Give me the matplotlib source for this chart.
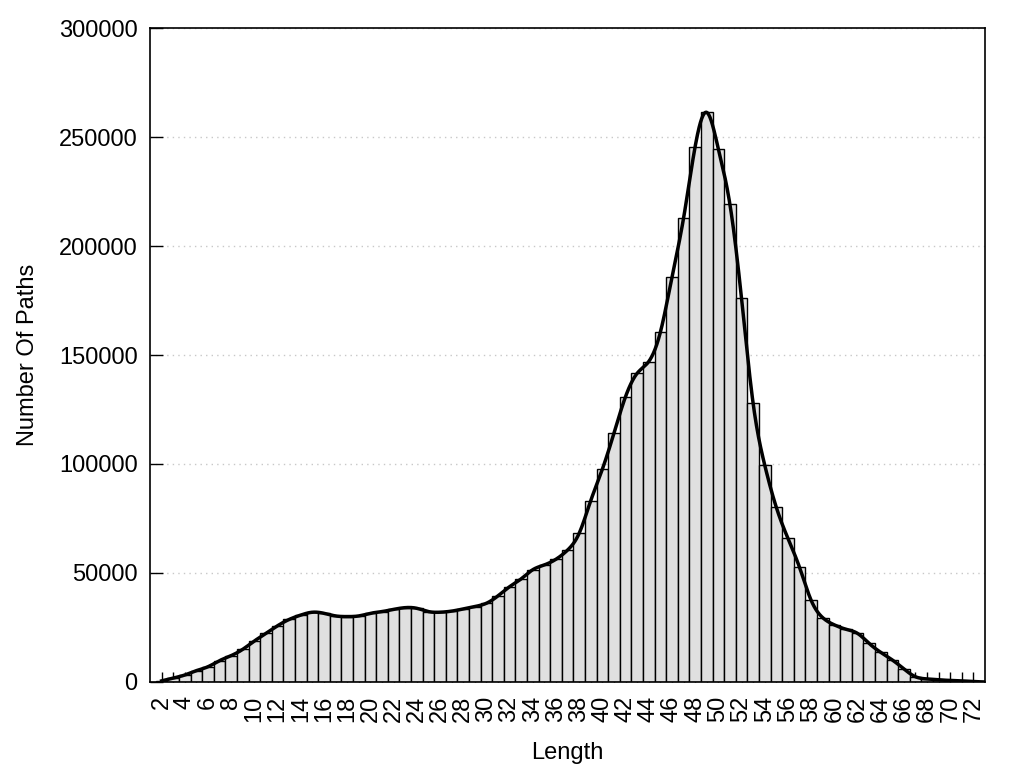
import numpy as np
import matplotlib
matplotlib.use("Agg")
import matplotlib.pyplot as plt

plt.rcParams['font.family'] = ['Liberation Sans', 'DejaVu Sans']

lengths = list(range(2, 74))
paths = [500, 1800, 3200, 5200, 7000, 9800, 12100, 15000, 18800, 22300,
         25800, 28700, 30700, 32000, 31500, 30300, 30000, 30300, 31500, 32300,
         33300, 34100, 33800, 32300, 32000, 32500, 33500, 34600, 36100, 39500,
         43700, 47300, 51500, 53700, 56300, 60500, 68200, 83200, 97600, 114100,
         130900, 141600, 147000, 160400, 185600, 212700, 245600, 261300, 244600, 219100,
         176000, 127800, 99500, 80100, 65900, 52600, 37500, 29500, 26200, 24200,
         22300, 17700, 13600, 10100, 6000, 2400, 1400, 1000, 700, 500,
         200, 0]

x_labels = [str(v) for v in range(2, 73, 2)]


def natural_spline(x, y, n=2000):
    # plain natural cubic spline through the points (like gnuplot csplines)
    x = np.asarray(x, float)
    y = np.asarray(y, float)
    k = len(x)
    h = np.diff(x)
    A = np.zeros((k, k))
    b = np.zeros(k)
    A[0, 0] = 1
    A[-1, -1] = 1
    for i in range(1, k - 1):
        A[i, i - 1] = h[i - 1]
        A[i, i] = 2 * (h[i - 1] + h[i])
        A[i, i + 1] = h[i]
        b[i] = 3 * ((y[i + 1] - y[i]) / h[i] - (y[i] - y[i - 1]) / h[i - 1])
    c = np.linalg.solve(A, b)
    xs = np.linspace(x[0], x[-1], n)
    idx = np.clip(np.searchsorted(x, xs) - 1, 0, k - 2)
    dx = xs - x[idx]
    hi = h[idx]
    bb = (y[idx + 1] - y[idx]) / hi - hi * (2 * c[idx] + c[idx + 1]) / 3
    d = (c[idx + 1] - c[idx]) / (3 * hi)
    ys = y[idx] + bb * dx + c[idx] * dx ** 2 + d * dx ** 3
    return xs, ys


fig = plt.figure(figsize=(10.24, 7.68), dpi=100)
ax = fig.add_axes([0.1465, 0.112, 0.8155, 0.8515])

ax.bar(lengths, paths, width=1.0, color='#e0e0e0', edgecolor='black', linewidth=1.0, zorder=2)
sx, sy = natural_spline(lengths, paths)
ax.plot(sx, sy, color='black', linewidth=2.5, zorder=3)

ax.set_xlim(1, 73)
ax.set_ylim(0, 300000)
ax.set_yticks(range(0, 300001, 50000))
ax.set_xticks(range(2, 73, 2))
ax.set_xticklabels(x_labels, rotation=90)
ax.set_xticks(range(3, 73, 2), minor=True)

ax.grid(axis='y', color='#c8c8c8', linestyle=(0, (1, 3)), linewidth=1.0)
ax.set_axisbelow(True)

ax.tick_params(axis='y', direction='in', length=9, width=1, labelsize=17, pad=9)
ax.tick_params(axis='x', which='both', direction='in', length=7, width=1, labelsize=17, pad=10)
for s in ax.spines.values():
    s.set_linewidth(1.2)

ax.set_xlabel('Length', fontsize=17, labelpad=14)
ax.set_ylabel('Number Of Paths', fontsize=17, labelpad=14)

fig.savefig('out.png', dpi=100)
